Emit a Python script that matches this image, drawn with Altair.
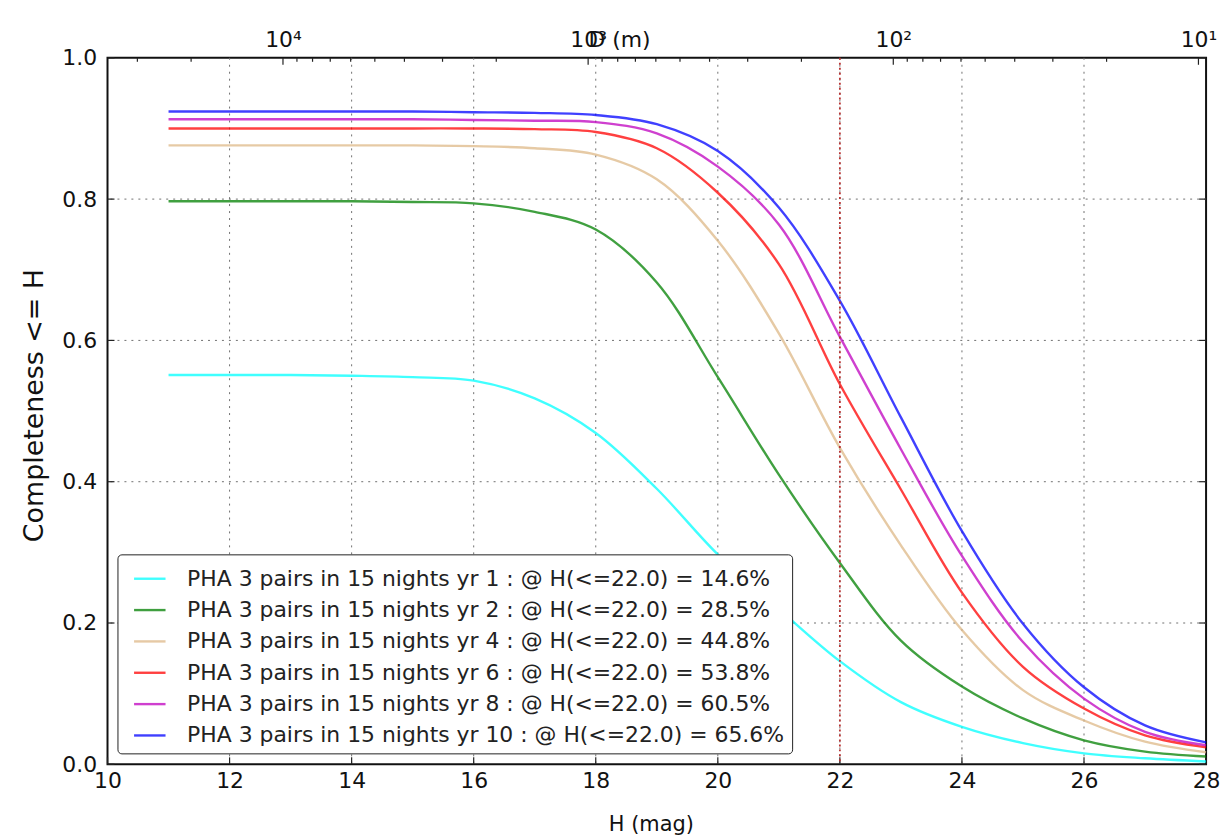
import altair as alt
import pandas as pd

# ---------------- data ----------------
H_MAG = [11, 12, 13, 14, 15, 16, 17, 18, 19, 20, 21, 22, 23, 24, 25, 26, 27, 28]

YR1 = [0.551, 0.551, 0.551, 0.550, 0.548, 0.543, 0.518, 0.469, 0.390, 0.297, 0.220, 0.146,
       0.088, 0.053, 0.030, 0.0155, 0.0085, 0.004]
YR2 = [0.797, 0.797, 0.797, 0.797, 0.796, 0.794, 0.782, 0.757, 0.682, 0.548, 0.410, 0.285,
       0.175, 0.110, 0.065, 0.034, 0.018, 0.011]
YR4 = [0.876, 0.876, 0.876, 0.876, 0.876, 0.875, 0.872, 0.863, 0.828, 0.741, 0.610, 0.448,
       0.310, 0.190, 0.105, 0.062, 0.032, 0.017]
YR6 = [0.900, 0.900, 0.900, 0.900, 0.900, 0.900, 0.899, 0.895, 0.872, 0.809, 0.708, 0.538,
       0.389, 0.243, 0.138, 0.079, 0.041, 0.024]
YR8 = [0.913, 0.913, 0.913, 0.913, 0.913, 0.912, 0.911, 0.909, 0.893, 0.846, 0.764, 0.605,
       0.446, 0.295, 0.173, 0.093, 0.046, 0.027]
YR10 = [0.924, 0.924, 0.924, 0.924, 0.924, 0.923, 0.922, 0.919, 0.906, 0.868, 0.788, 0.656,
        0.491, 0.330, 0.199, 0.109, 0.055, 0.031]

SERIES = [
    "PHA 3 pairs in 15 nights yr 1 : @ H(<=22.0) = 14.6%",
    "PHA 3 pairs in 15 nights yr 2 : @ H(<=22.0) = 28.5%",
    "PHA 3 pairs in 15 nights yr 4 : @ H(<=22.0) = 44.8%",
    "PHA 3 pairs in 15 nights yr 6 : @ H(<=22.0) = 53.8%",
    "PHA 3 pairs in 15 nights yr 8 : @ H(<=22.0) = 60.5%",
    "PHA 3 pairs in 15 nights yr 10 : @ H(<=22.0) = 65.6%",
]
COLORS = ["#00ffff", "#008000", "#deb887", "#ff0000", "#bf00bf", "#0000ff"]

X_TICKS = [10, 12, 14, 16, 18, 20, 22, 24, 26, 28]
X_GRID = [12, 14, 16, 18, 20, 22, 24, 26]
Y_TICKS = [0.0, 0.2, 0.4, 0.6, 0.8, 1.0]
Y_GRID = [0.2, 0.4, 0.6, 0.8]
H_LIMIT = [22.0]

# top axis: diameter D (m), log scale, spanning H = 10 .. 28
D_DOMAIN = [9.441, 37584]
D_MAJOR = [10000, 1000, 100, 10]
D_MINOR = [30000, 20000,
           9000, 8000, 7000, 6000, 5000, 4000, 3000, 2000,
           900, 800, 700, 600, 500, 400, 300, 200,
           90, 80, 70, 60, 50, 40, 30, 20]

# ---------------- chart ----------------
W, HGT = 1104, 710
FONT = "DejaVu Sans"

rows = []
for name, vals in zip(SERIES, [YR1, YR2, YR4, YR6, YR8, YR10]):
    for h, c in zip(H_MAG, vals):
        rows.append({"H": h, "C": c, "series": name})
curves = pd.DataFrame(rows)

xs = alt.Scale(domain=[10, 28], nice=False, zero=False)
ys = alt.Scale(domain=[0, 1], nice=False, zero=False)

x_axis = alt.Axis(values=X_TICKS, format="d", grid=False, ticks=False, tickSize=0,
                  domain=False, labelFontSize=22, labelPadding=23, labelFlush=False,
                  labelBaseline="alphabetic", labelColor="#111111",
                  title="H (mag)", titleFontSize=21, titleFontWeight="normal",
                  titleColor="#111111", titleBaseline="alphabetic", titleAlign="center",
                  titleX=W / 2 - 6, titleY=67)
y_axis = alt.Axis(values=Y_TICKS, format=".1f", grid=False, ticks=False, tickSize=0,
                  domain=False, labelFontSize=22, labelPadding=11, labelColor="#111111",
                  labelFlush=False,
                  title="Completeness <= H", titleFontSize=27, titleFontWeight="normal",
                  titleColor="#111111", titleAngle=270, titleAlign="center",
                  titleBaseline="middle", titleX=-73, titleY=HGT / 2 - 6)

X_ENC = alt.X("H:Q", scale=xs, axis=x_axis)
Y_ENC = alt.Y("C:Q", scale=ys, axis=y_axis)

grid_style = dict(color="#707070", strokeWidth=1, strokeDash=[2, 5])

xgrid = alt.Chart(pd.DataFrame({"H": X_GRID})).mark_rule(**grid_style).encode(x=X_ENC)
ygrid = alt.Chart(pd.DataFrame({"C": Y_GRID})).mark_rule(**grid_style).encode(y=Y_ENC)

tick_style = dict(color="#222222", strokeWidth=1.2)
bottom_ticks = alt.Chart(pd.DataFrame({"H": X_TICKS})).mark_rule(**tick_style).encode(
    x=X_ENC, y=alt.value(HGT - 7), y2=alt.value(HGT))
left_ticks = alt.Chart(pd.DataFrame({"C": Y_TICKS})).mark_rule(**tick_style).encode(
    y=Y_ENC, x=alt.value(0), x2=alt.value(7))
right_ticks = alt.Chart(pd.DataFrame({"C": Y_TICKS})).mark_rule(**tick_style).encode(
    y=Y_ENC, x=alt.value(W - 7), x2=alt.value(W))

lines = alt.Chart(curves).mark_line(strokeWidth=2.4, opacity=0.75,
                                    interpolate="catmull-rom").encode(
    x=X_ENC,
    y=Y_ENC,
    color=alt.Color("series:N",
                    scale=alt.Scale(domain=SERIES, range=COLORS),
                    legend=alt.Legend(title=None, orient="none", legendX=10, legendY=499,
                                      strokeColor="#222222", fillColor="white",
                                      cornerRadius=4, padding=7, symbolType="stroke",
                                      symbolSize=1000, symbolStrokeWidth=2.4,
                                      symbolOpacity=0.75, labelFontSize=22,
                                      labelColor="#222222", rowPadding=2.5,
                                      labelOffset=20, symbolOffset=8, labelLimit=1000)),
    order=alt.Order("series:N"),
)

vline = alt.Chart(pd.DataFrame({"H": H_LIMIT})).mark_rule(
    color="#b83232", strokeWidth=1.8, strokeDash=[2, 3]).encode(x=X_ENC)

main = alt.layer(xgrid, ygrid, bottom_ticks, left_ticks, right_ticks, lines, vline)

d_axis = alt.Axis(orient="top", values=D_MAJOR,
                  labelExpr="datum.value == 10000 ? '10⁴' : datum.value == 1000 ? '10³' : "
                            "datum.value == 100 ? '10²' : '10¹'",
                  grid=False, ticks=False, tickSize=0, domain=False, labelFontSize=22,
                  labelPadding=11, labelBaseline="alphabetic", labelColor="#111111",
                  labelFlush=False,
                  title="D (m)", titleFontSize=22, titleFontWeight="normal",
                  titleColor="#111111", titleAlign="center", titleBaseline="alphabetic",
                  titleX=514, titleY=-11)
D_ENC = alt.X("D:Q", scale=alt.Scale(type="log", domain=D_DOMAIN, reverse=True, nice=False),
              axis=d_axis)

top_major = alt.Chart(pd.DataFrame({"D": D_MAJOR})).mark_rule(**tick_style).encode(
    x=D_ENC, y=alt.value(0), y2=alt.value(7))
top_minor = alt.Chart(pd.DataFrame({"D": D_MINOR})).mark_rule(**tick_style).encode(
    x=D_ENC, y=alt.value(0), y2=alt.value(4))
top = alt.layer(top_major, top_minor)

chart = alt.layer(main, top).resolve_scale(x="independent").properties(
    width=W, height=HGT,
    autosize=alt.AutoSizeParams(type="none"),
    padding={"left": 100, "top": 48, "right": 14, "bottom": 72},
).configure(font=FONT).configure_view(stroke="#111111", strokeWidth=2)

chart.save("out.html", embed_options={"renderer": "svg", "actions": False})
